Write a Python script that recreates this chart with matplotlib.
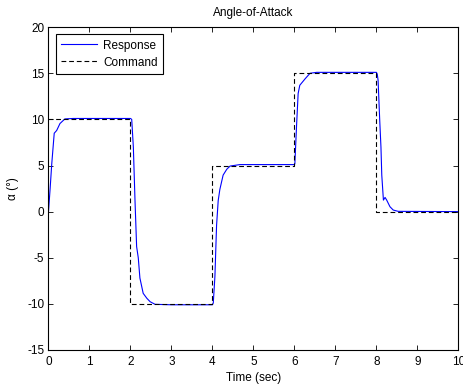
import matplotlib
matplotlib.use('Agg')
from matplotlib import pyplot as plt

plt.rcParams['font.family'] = ['Liberation Sans', 'DejaVu Sans']
plt.rcParams['axes.unicode_minus'] = False

# response
t_resp = [0.0, 0.04, 0.08, 0.14, 0.2, 0.28, 0.4, 0.6, 2.0, 2.03, 2.07, 2.11, 2.15, 2.19, 2.23,
          2.31, 2.4, 2.48, 2.6, 3.0, 4.0, 4.02, 4.06, 4.1, 4.14, 4.18, 4.26, 4.35, 4.43, 4.67,
          6.0, 6.01, 6.05, 6.09, 6.13, 6.26, 6.38, 6.54, 8.0, 8.02, 8.04, 8.08, 8.11, 8.13,
          8.17, 8.21, 8.25, 8.33, 8.41, 8.53, 10.0]
a_resp = [0.0, 2.5, 5.2, 8.5, 8.8, 9.55, 10.05, 10.1, 10.1, 10.0, 7.0, 1.25, -3.8, -5.0, -7.2,
          -8.86, -9.4, -9.77, -10.05, -10.1, -10.1, -9.9, -7.0, -1.5, 1.2, 2.4, 3.96, 4.6, 4.94, 5.1,
          5.1, 5.2, 9.2, 12.8, 13.7, 14.4, 15.0, 15.1, 15.1, 14.9, 14.25, 9.9, 7.0, 3.96,
          1.25, 1.54, 1.25, 0.53, 0.17, 0.03, 0.0]

# command steps
t_cmd = [0, 2, 4, 6, 8, 10]
a_cmd = [10, -10, 5, 15, 0, 0]

fig = plt.figure(figsize=(4.64, 3.88), dpi=100)
ax = fig.add_axes([0.1045, 0.098, 0.8835, 0.832])

ax.plot(t_resp, a_resp, color='blue', linewidth=0.8, label='Response')
ax.step(t_cmd, a_cmd, where='post', color='black', linewidth=0.8,
        linestyle=(0, (4.3, 2.6)), label='Command')

ax.set_xlim(0, 10)
ax.set_ylim(-15, 20)
ax.set_xticks(range(0, 11))
ax.set_yticks(range(-15, 21, 5))
ax.tick_params(direction='in', length=3.5, width=0.6, labelsize=8.5, top=True, right=True, pad=3)
ax.tick_params(axis='x', pad=4)
for s in ax.spines.values():
    s.set_linewidth(0.8)

ax.set_title('Angle-of-Attack', fontsize=8.5, pad=8)
ax.set_xlabel('Time (sec)', fontsize=8.5, labelpad=3)
ax.set_ylabel('α (°)', fontsize=8.5, labelpad=6)

leg = ax.legend(loc='upper left', fontsize=8.5, fancybox=False, framealpha=1,
                edgecolor='black', borderaxespad=0.6, handlelength=3.1,
                borderpad=0.45, labelspacing=0.42, handletextpad=0.5)
leg.get_frame().set_linewidth(0.8)

fig.savefig('out.png', dpi=100)
